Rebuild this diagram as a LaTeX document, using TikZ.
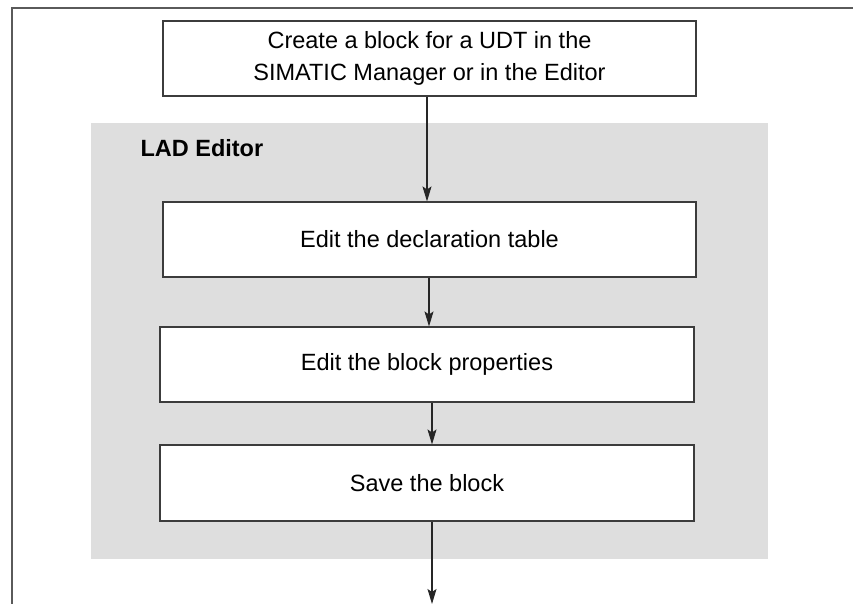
\documentclass[tikz,border=0pt]{standalone}
\usepackage{fontspec}
\setmainfont{Liberation Sans}
\usetikzlibrary{arrows.meta}
\definecolor{panel}{HTML}{DEDEDE}
\definecolor{edge}{HTML}{3C3C3C}
\definecolor{frame}{HTML}{5A5A5A}
\tikzset{
  stepbox/.style={draw=edge, line width=1.1pt, fill=white, minimum width=533pt, minimum height=75pt,
    inner sep=0pt, align=center, font=\fontsize{23.5}{32}\selectfont},
  arr/.style={draw=black!85, line width=1.1pt, -{Stealth[length=15pt,width=9pt,inset=3pt]}},
}
\begin{document}
\begin{tikzpicture}[x=1pt,y=1pt]
\useasboundingbox (0,0) rectangle (853,-604);
% frame (left and top)
\draw[frame, line width=1.6pt] (12,-604) -- (12,-8) -- (853,-8);
% panel
\fill[panel] (91,-123) rectangle (768,-559);
\node[anchor=west, font=\fontsize{23.5}{28}\selectfont\bfseries] (lad) at (137,-148) {LAD Editor};
% boxes
\node[stepbox] (top) at (429.5,-58.5) {Create a block for a UDT in the\\SIMATIC Manager or in the Editor};
\node[stepbox] (b1) at (429.5,-239.5) {Edit the declaration table};
\node[stepbox, minimum width=534pt] (b2) at (427,-364.5) {Edit the block properties};
\node[stepbox, minimum width=534pt, minimum height=76pt] (b3) at (427,-483) {Save the block};
\coordinate (end) at (432,-604);
% connectors
\draw[arr] ([xshift=-2.5pt]top.south) -- ([xshift=-2.5pt]b1.north);
\draw[arr] ([xshift=-0.5pt]b1.south) -- ([xshift=-0.5pt]b1.south |- b2.north);
\draw[arr] ([xshift=5pt]b2.south) -- ([xshift=5pt]b3.north);
\draw[arr] ([xshift=5pt]b3.south) -- (end);
\end{tikzpicture}
\end{document}
